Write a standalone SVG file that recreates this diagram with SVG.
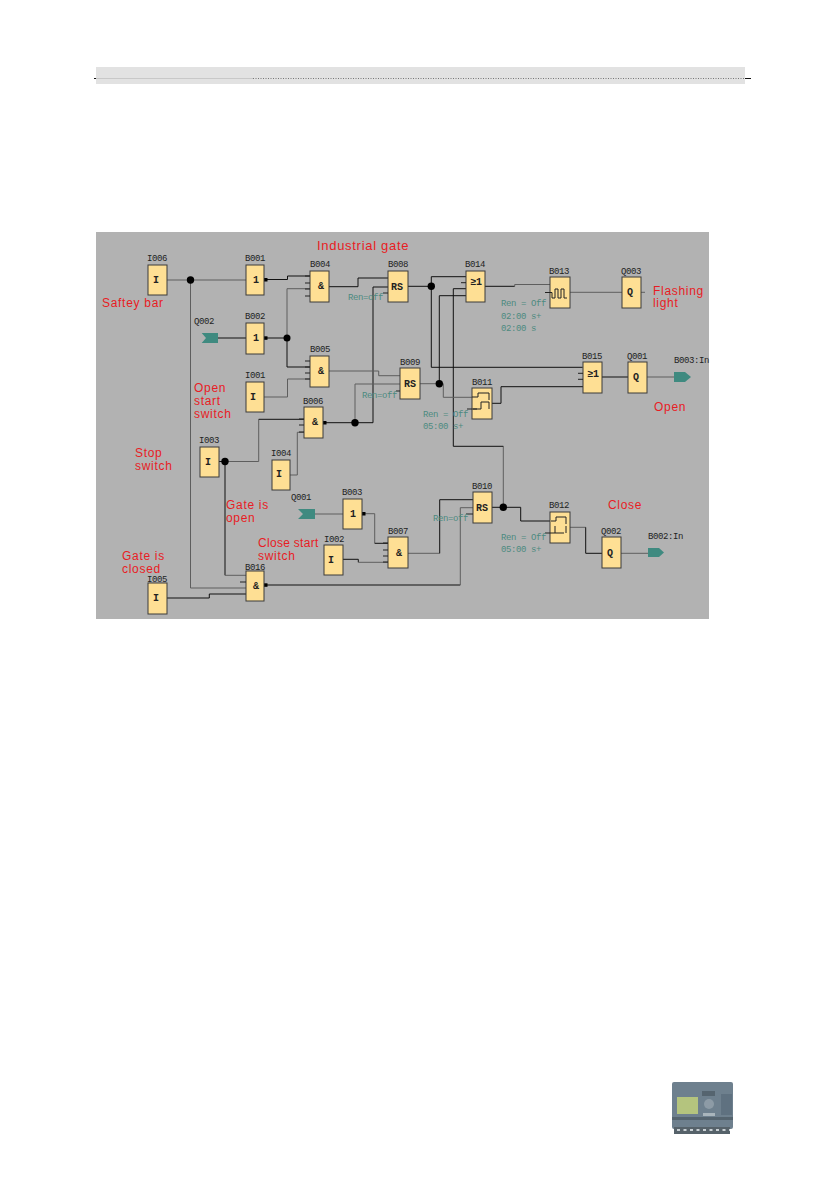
<svg xmlns="http://www.w3.org/2000/svg" width="839" height="1191" viewBox="0 0 839 1191">
<style>
.b{fill:#fedf94;stroke:#3a3a3a;stroke-width:1}
.w{fill:none;stroke:#5e5e5e;stroke-width:1}
.d{fill:none;stroke:#111;stroke-width:1}
.s{fill:none;stroke:#222;stroke-width:1}
.t{font-family:"Liberation Mono",monospace;font-size:9px;letter-spacing:-.4px;fill:#222}
.c{font-family:"Liberation Mono",monospace;font-size:10px;font-weight:bold;fill:#222;text-anchor:middle}
.g{font-family:"Liberation Mono",monospace;font-size:9px;letter-spacing:-.4px;fill:#4d8a80}
.r{font-family:"Liberation Sans",Arial,sans-serif;font-size:12px;fill:#e81c24;letter-spacing:.7px}
.a{fill:#3f8a80}
</style>
<rect width="839" height="1191" fill="#fff"/>
<g id="header">
<rect x="96" y="67" width="649" height="17" fill="#e2e2e2"/>
<line x1="96" y1="78.5" x2="253" y2="78.5" stroke="#c8c8c8"/>
<line x1="253" y1="78.5" x2="745" y2="78.5" stroke="#777" stroke-dasharray="1 1.5"/>
<line x1="94" y1="78.5" x2="96" y2="78.5" stroke="#111"/>
<line x1="745" y1="78.5" x2="751" y2="78.5" stroke="#111"/>
</g>
<rect x="96" y="232" width="613" height="387" fill="#b2b2b2"/>
<g id="connectors">
<path class="w" d="M167 280H246M190.500 280V588H246"/>
<path class="d" d="M264 279.500H287.500V276H310M264 338H287M218 338H246M287 338V367H310"/>
<path class="w" d="M287 338V288.700H310M264 397H287.500V379H310"/>
<path class="d" d="M329 286.700H358V278H388M388 287H373V422.700H355"/>
<path class="d" d="M323 422.700H355"/>
<path class="w" d="M355 422.700V384H400M329 371H378.700V375.700H400"/>
<path class="w" d="M225 461.500H258.700V419.300"/>
<path class="d" d="M258.700 419.300H304"/>
<path class="w" d="M290 475H297.300V432.300H304"/>
<path class="d" d="M219 461.500H225V575.300"/>
<path class="w" d="M225 575.300H246"/>
<path class="d" d="M167 598H209.300V594H246M264 585H460.300"/>
<path class="w" d="M460.300 585V507.700H473M408 553.300H439.700"/>
<path class="d" d="M439.700 553.300V499.700H473"/>
<path class="d" d="M492 507.300H520.700V521H550"/>
<path class="w" d="M503.300 507.300V446.300"/>
<path class="d" d="M503.300 446.300H453.300V288.700H466"/>
<path class="w" d="M570 527.300H585.700"/>
<path class="d" d="M585.700 527.300V553.300H602"/>
<path class="w" d="M621 553.300H648M315 514H343M362 513.700H374.700V543.300"/>
<path class="d" d="M374.700 543.300H388"/>
<path class="d" d="M343 559.300H358.300V562.300"/>
<path class="w" d="M358.300 562.300H388"/>
<path class="d" d="M408 286.300H431.300M431.300 276.700H466M431.300 276.700V367.300H582.700"/>
<path class="d" d="M485 286.300H514.700"/>
<path class="w" d="M514.700 286.300V284.500H550"/>
<path class="w" d="M420 383.700H439.300"/>
<path class="d" d="M439.300 383.700V295.700H466"/>
<path class="w" d="M439.300 383.700H443.300V397.300H472M570 292.300H622M641 292.300H645"/>
<path class="d" d="M492 403.300H501V386.700H583"/>
<path class="d" d="M602 377H628"/>
<path class="w" d="M647 377H674"/>
<g fill="#000">
<circle cx="190.500" cy="280" r="3.700"/><circle cx="287" cy="338" r="3.500"/><circle cx="355" cy="422.700" r="3.700"/>
<circle cx="225" cy="461.500" r="3.700"/><circle cx="431.300" cy="286.300" r="3.700"/><circle cx="439.300" cy="383.700" r="3.700"/>
<circle cx="503.300" cy="507.300" r="3.700"/>
<rect x="264" y="278" width="3.500" height="3.500"/><rect x="264" y="336.300" width="3.500" height="3.500"/>
<rect x="323" y="421" width="3.500" height="3.500"/><rect x="362" y="512" width="3.500" height="3.500"/><rect x="264" y="583.300" width="3.500" height="3.500"/>
</g>
</g>
<g id="I006"><rect class="b" x="148" y="265" width="19" height="30"/><text class="t" x="147" y="261">I006</text><text class="c" x="156" y="283">I</text></g>
<g id="B001"><rect class="b" x="246" y="265" width="18" height="30"/><text class="t" x="245" y="261">B001</text><text class="c" x="256" y="283">1</text></g>
<g id="B002"><rect class="b" x="246" y="323" width="18" height="31"/><text class="t" x="245" y="319">B002</text><text class="c" x="256" y="341">1</text></g>
<g id="B004"><rect class="b" x="310" y="271" width="19" height="31"/><path class="s" d="M305 276H310M305 283H310M305 289H310M305 296H310"/><text class="t" x="310" y="267">B004</text><text class="c" x="321" y="289">&amp;</text></g>
<g id="B005"><rect class="b" x="310" y="356" width="19" height="31"/><path class="s" d="M305 361H310M305 367H310M305 373H310M305 379H310"/><text class="t" x="310" y="352">B005</text><text class="c" x="321" y="374">&amp;</text></g>
<g id="B006"><rect class="b" x="304" y="407" width="19" height="31"/><path class="s" d="M299 419H304M299 425H304M299 432H304"/><text class="t" x="303" y="404">B006</text><text class="c" x="315" y="425">&amp;</text></g>
<g id="B007"><rect class="b" x="388" y="537" width="20" height="31"/><path class="s" d="M383 543H388M383 550H388M383 556H388M383 562H388"/><text class="t" x="388" y="534">B007</text><text class="c" x="399" y="556">&amp;</text></g>
<g id="B008"><rect class="b" x="388" y="271" width="20" height="31"/><path class="s" d="M383 293H388"/><text class="t" x="388" y="267">B008</text><text class="c" x="397" y="290">RS</text><text class="g" x="348" y="300">Ren=off</text></g>
<g id="B009"><rect class="b" x="400" y="368" width="20" height="31"/><path class="s" d="M396 391H400"/><text class="t" x="400" y="365">B009</text><text class="c" x="410" y="387">RS</text><text class="g" x="362" y="398">Ren=off</text></g>
<g id="B010"><rect class="b" x="473" y="492" width="19" height="31"/><path class="s" d="M466 514H473"/><text class="t" x="472" y="489">B010</text><text class="c" x="482" y="511">RS</text><text class="g" x="433" y="521">Ren=off</text></g>
<g id="B011"><rect class="b" x="472" y="388" width="20" height="31"/><path class="s" d="M467 409H477M472 397H478V393H489V400M473 409H481V402H489V409"/><text class="t" x="472" y="385">B011</text><text class="g" x="423" y="417">Ren = Off</text><text class="g" x="423" y="429">05:00 s+</text></g>
<g id="B012"><rect class="b" x="550" y="512" width="20" height="31"/><path class="s" d="M545 533H564M551 521H556V517H566V524M555 533V526M566 526V533"/><text class="t" x="549" y="508">B012</text><text class="g" x="501" y="540">Ren = Off</text><text class="g" x="501" y="552">05:00 s+</text></g>
<g id="B013"><rect class="b" x="550" y="277" width="20" height="31"/><path class="s" d="M545 292.500H552V298H555V289H558V298H561V289H564V298H567"/><text class="t" x="549" y="274">B013</text><text class="g" x="501" y="306">Ren = Off</text><text class="g" x="501" y="319">02:00 s+</text><text class="g" x="501" y="331">02:00 s</text></g>
<g id="B014"><rect class="b" x="466" y="271" width="19" height="31"/><path class="s" d="M461 282.700H466"/><text class="t" x="465" y="267">B014</text><text class="c" x="476" y="285">≥1</text></g>
<g id="B015"><rect class="b" x="583" y="362" width="19" height="31"/><path class="s" d="M578 373.300H583M578 379.300H583"/><text class="t" x="582" y="359">B015</text><text class="c" x="593" y="377">≥1</text></g>
<g id="Q001"><rect class="b" x="628" y="362" width="19" height="31"/><text class="t" x="627" y="359">Q001</text><text class="c" x="636" y="380">Q</text></g>
<g id="Q002"><rect class="b" x="602" y="537" width="19" height="31"/><text class="t" x="601" y="534">Q002</text><text class="c" x="610" y="556">Q</text></g>
<g id="Q003"><rect class="b" x="622" y="277" width="19" height="31"/><text class="t" x="621" y="274">Q003</text><text class="c" x="630" y="295">Q</text></g>
<g id="I001"><rect class="b" x="246" y="382" width="18" height="30"/><text class="t" x="245" y="378">I001</text><text class="c" x="253" y="400">I</text></g>
<g id="I002"><rect class="b" x="324" y="545" width="19" height="30"/><text class="t" x="324" y="541.500">I002</text><text class="c" x="331" y="563">I</text></g>
<g id="I003"><rect class="b" x="200" y="447" width="19" height="30"/><text class="t" x="199" y="443">I003</text><text class="c" x="208" y="465">I</text></g>
<g id="I004"><rect class="b" x="272" y="460" width="18" height="30"/><text class="t" x="271" y="456">I004</text><text class="c" x="279" y="477">I</text></g>
<g id="I005"><rect class="b" x="148" y="583" width="19" height="31"/><text class="t" x="147" y="581.500">I005</text><text class="c" x="156" y="601">I</text></g>
<g id="B003"><rect class="b" x="343" y="499" width="19" height="30"/><text class="t" x="342" y="495">B003</text><text class="c" x="353" y="517">1</text></g>
<g id="B016"><rect class="b" x="246" y="571" width="18" height="30"/><path class="s" d="M240 582H246"/><text class="t" x="245" y="569.500">B016</text><text class="c" x="256" y="589">&amp;</text></g>
<g id="Q002-flag"><path class="a" d="M201.700 333H218V343H201.700L206 338Z"/><text class="t" x="194" y="324">Q002</text></g>
<g id="Q001-flag"><path class="a" d="M298 509H315V519H298L303 514Z"/><text class="t" x="291" y="500">Q001</text></g>
<g id="B003-In"><path class="a" d="M674 372H685L691 377L685 382H674Z"/><text class="t" x="674" y="363">B003:In</text></g>
<g id="B002-In"><path class="a" d="M648 548H659L664 552.500L659 557H648Z"/><text class="t" x="648" y="539">B002:In</text></g>
<g id="labels">
<text class="r" x="317" y="250" style="font-size:13px">Industrial gate</text>
<text class="r" x="102" y="307">Saftey bar</text>
<text class="r" x="194" y="392">Open</text><text class="r" x="194" y="405">start</text><text class="r" x="194" y="418">switch</text>
<text class="r" x="135" y="457">Stop</text><text class="r" x="135" y="470">switch</text>
<text class="r" x="226" y="509">Gate is</text><text class="r" x="226" y="522">open</text>
<text class="r" x="258" y="547" style="letter-spacing:.3px">Close start</text><text class="r" x="258" y="559.500">switch</text>
<text class="r" x="122" y="560">Gate is</text><text class="r" x="122" y="572.500">closed</text>
<text class="r" x="653" y="295">Flashing</text><text class="r" x="653" y="307">light</text>
<text class="r" x="654" y="411">Open</text>
<text class="r" x="608" y="509">Close</text>
</g>
<g id="plc">
<rect x="672" y="1082" width="61" height="47" rx="2" fill="#6e808e"/>
<rect x="672" y="1117" width="61" height="3" fill="#55646f"/>
<rect x="674" y="1127" width="56" height="7" fill="#56626a"/>
<path d="M677 1130H730" stroke="#c9d0d4" stroke-width="2" stroke-dasharray="3 3.500"/>
<rect x="677" y="1097" width="21" height="17" fill="#b4c47e"/>
<rect x="702" y="1091" width="13" height="5" fill="#55646f"/>
<circle cx="709" cy="1104" r="5" fill="#8d9ba6"/>
<rect x="703" y="1113" width="12" height="3" fill="#a9b5bc"/>
<rect x="721" y="1094" width="11" height="21" fill="#5f7180"/>
</g>
</svg>
